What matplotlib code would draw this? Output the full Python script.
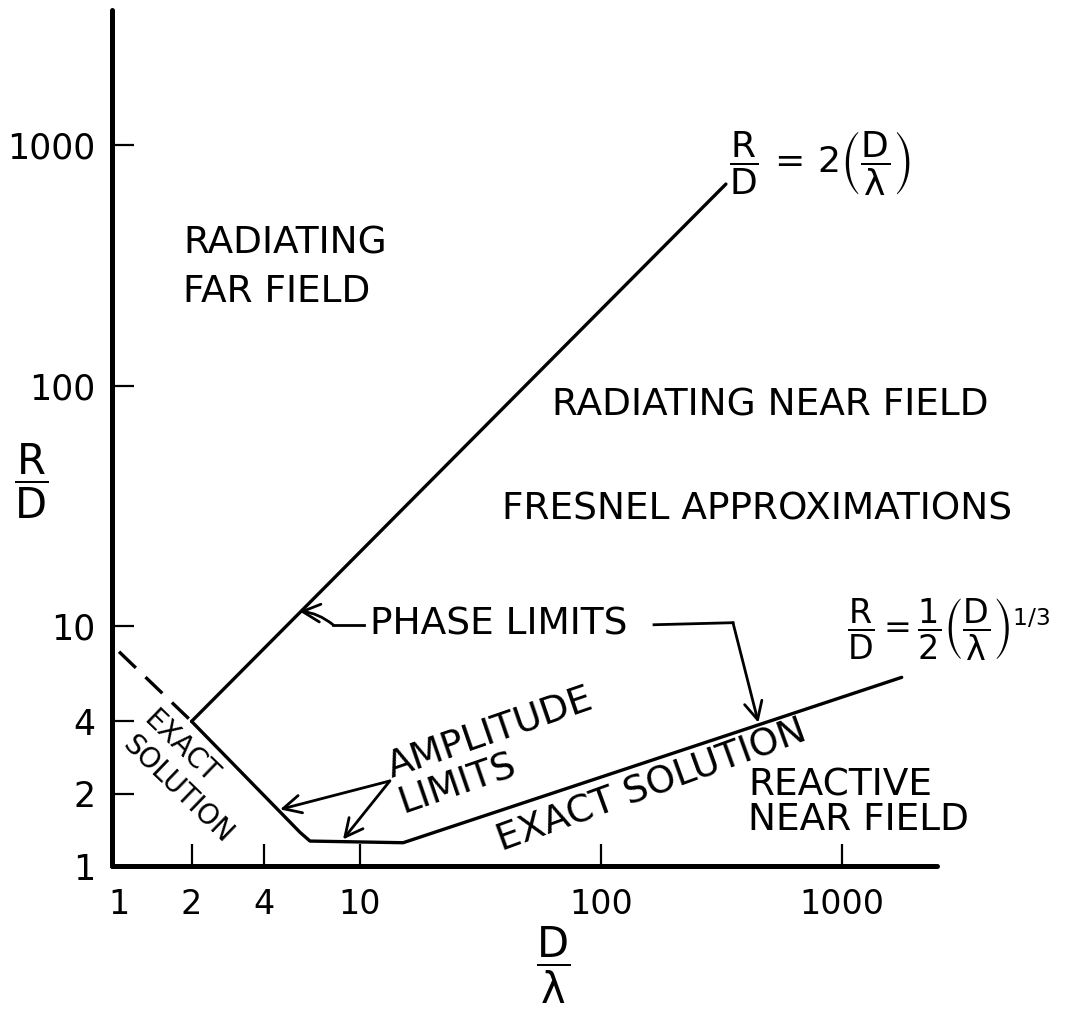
import matplotlib.pyplot as plt
from matplotlib.ticker import NullLocator

plt.rcParams['font.family'] = 'DejaVu Sans'
plt.rcParams['mathtext.fontset'] = 'dejavusans'

# boundary lines, (D/lambda, R/D)
far_x = [2, 330]          # R/D = 2 (D/lambda)
far_y = [4, 690]
dash_x = [1, 2]           # dashed extension
dash_y = [7.8, 4]
amp_x = [2, 5.64, 6.2, 15.1, 1770]   # amplitude limit + R/D = 1/2 (D/lambda)^(1/3)
amp_y = [4, 1.38, 1.27, 1.25, 6.1]

ticks = [1, 2, 4, 10, 100, 1000]
tick_labels = ['1', '2', '4', '10', '100', '1000']

W, H = 1073, 1010


def px(x, y):
    # pixel position on the page -> figure fraction
    return x / W, 1 - y / H


fig = plt.figure(figsize=(W / 100, H / 100), dpi=100)
ax = fig.add_axes([112 / W, 144 / H, (937 - 112) / W, (866 - 10) / H])
ax.set_xscale('log')
ax.set_yscale('log')
ax.set_xlim(0.935, 2480)
ax.set_ylim(1, 3660)

ax.set_xticks(ticks)
ax.set_xticklabels(tick_labels)
ax.set_yticks(ticks)
ax.set_yticklabels(tick_labels)
ax.xaxis.set_minor_locator(NullLocator())
ax.yaxis.set_minor_locator(NullLocator())
ax.xaxis.get_major_ticks()[0].tick1line.set_visible(False)
ax.yaxis.get_major_ticks()[0].tick1line.set_visible(False)

for s in ['top', 'right']:
    ax.spines[s].set_visible(False)
for s in ['left', 'bottom']:
    ax.spines[s].set_linewidth(3.6)
    ax.spines[s].set_capstyle('round')

ax.tick_params(direction='in', length=16, width=1.6, pad=12)
ax.tick_params(axis='y', labelsize=25)
ax.tick_params(axis='x', labelsize=24, pad=16)

lw = 2.4
ax.plot(far_x, far_y, color='black', lw=lw, solid_capstyle='round')
ax.plot(dash_x, dash_y, color='black', lw=lw, linestyle=(0, (7, 4)))
ax.plot(amp_x, amp_y, color='black', lw=lw, solid_capstyle='round',
        solid_joinstyle='round')

arrow = dict(arrowstyle='->', lw=2, color='black', mutation_scale=32,
             shrinkA=0, shrinkB=0)

fs = 27

# phase limits
ax.text(11.0, 10.1, 'PHASE LIMITS', fontsize=fs, ha='left', va='center')
ax.plot([7.73, 10.4], [10.1, 10.1], color='black', lw=2)
ax.annotate('', xy=(5.6, 11.5), xytext=(7.73, 10.1),
            arrowprops=dict(arrow, connectionstyle='arc3,rad=0.15'))
ax.plot([166, 353], [10.1, 10.3], color='black', lw=2)
ax.annotate('', xy=(450, 3.95), xytext=(353, 10.3), arrowprops=arrow)

# amplitude limits
ax.text(15.1, 1.68, 'AMPLITUDE\nLIMITS', fontsize=fs, ha='left', va='baseline',
        rotation=19, rotation_mode='anchor', multialignment='left',
        linespacing=1.05)
ax.annotate('', xy=(4.66, 1.72), xytext=(13.3, 2.26), arrowprops=arrow)
ax.annotate('', xy=(8.5, 1.29), xytext=(13.3, 2.26), arrowprops=arrow)

# region labels
fig.text(*px(183, 268), 'RADIATING\nFAR FIELD', fontsize=fs, ha='left',
         va='center', linespacing=1.45)
fig.text(*px(770, 405), 'RADIATING NEAR FIELD', fontsize=fs, ha='center',
         va='center')
fig.text(*px(757, 510), 'FRESNEL APPROXIMATIONS', fontsize=fs, ha='center',
         va='center')
fig.text(*px(748, 803), 'REACTIVE\nNEAR FIELD', fontsize=fs, ha='left',
         va='center', linespacing=0.95)
fig.text(*px(181, 747), 'EXACT', fontsize=20, ha='center', va='center',
         rotation=-44, rotation_mode='anchor')
fig.text(*px(178, 789), 'SOLUTION', fontsize=20, ha='center', va='center',
         rotation=-44, rotation_mode='anchor')
fig.text(*px(652, 786), 'EXACT SOLUTION', fontsize=fs, ha='center',
         va='center', rotation=20, rotation_mode='anchor')

# formulas
fig.text(*px(820, 164),
         r'$\dfrac{\mathrm{R}}{\mathrm{D}}\,=\,2\left(\dfrac{\mathrm{D}}{\mathrm{\lambda}}\right)$',
         fontsize=26, ha='center', va='center')
fig.text(*px(949, 629),
         r'$\dfrac{\mathrm{R}}{\mathrm{D}}=\dfrac{1}{2}\left(\dfrac{\mathrm{D}}{\mathrm{\lambda}}\right)^{1/3}$',
         fontsize=24, ha='center', va='center')

# axis labels
fig.text(*px(31, 481), r'$\dfrac{\mathrm{R}}{\mathrm{D}}$', fontsize=30,
         ha='center', va='center')
fig.text(*px(553, 965), r'$\dfrac{\mathrm{D}}{\mathrm{\lambda}}$', fontsize=30,
         ha='center', va='center')

fig.savefig('out.png', dpi=100)
